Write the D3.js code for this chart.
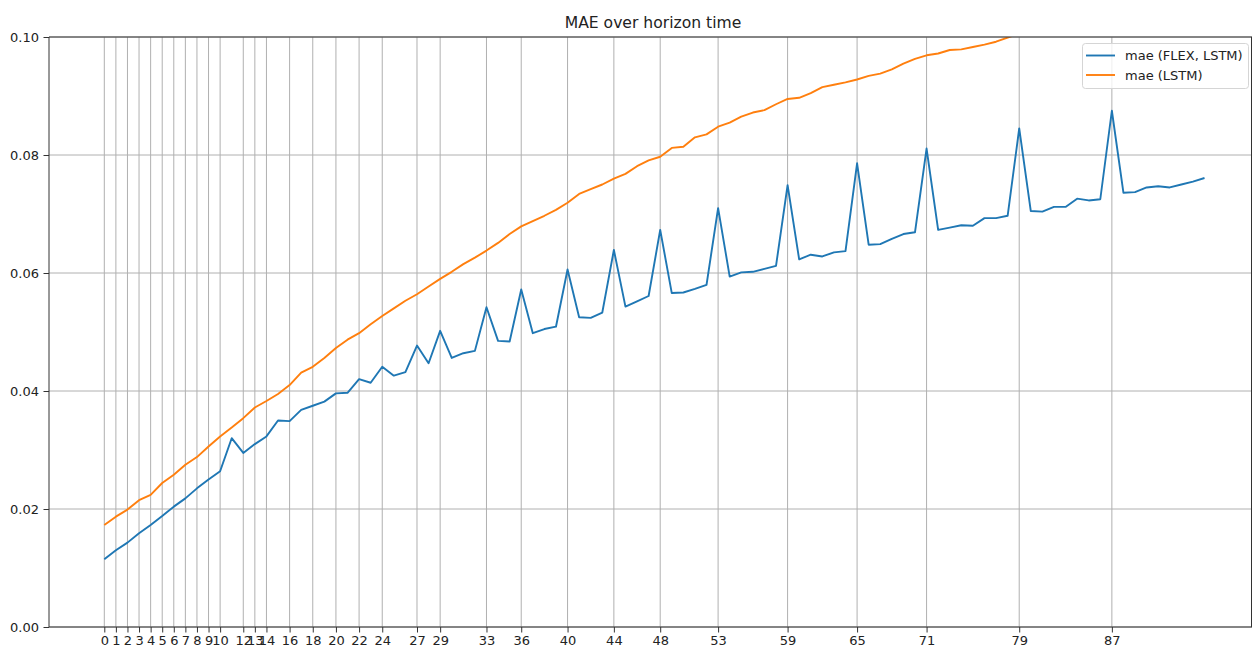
<!DOCTYPE html>
<html>
<head>
<meta charset="utf-8">
<script src="https://cdn.jsdelivr.net/npm/d3@7"></script>
<style>
  html, body { margin: 0; padding: 0; background: #fff; }
  svg { display: block; font-family: "DejaVu Sans", sans-serif; }
</style>
</head>
<body>
<svg id="chart" width="1253" height="648"></svg>
<script>
const title = "MAE over horizon time";
const seriesNames = ["mae (FLEX, LSTM)", "mae (LSTM)"];
const seriesColors = ["#1f77b4", "#ff7f0e"];
const xTickValues = [0,1,2,3,4,5,6,7,8,9,10,12,13,14,16,18,20,22,24,27,29,33,36,40,44,48,53,59,65,71,79,87];
const yTickValues = [0, 0.02, 0.04, 0.06, 0.08, 0.10];

const maeFlexLstm = [
  0.0115, 0.0130, 0.0143, 0.0159, 0.0173, 0.0188, 0.0204, 0.0218, 0.0235, 0.0250,
  0.0264, 0.0320, 0.0295, 0.0310, 0.0323, 0.0350, 0.0349, 0.0368, 0.0375, 0.0382,
  0.0396, 0.0397, 0.0420, 0.0414, 0.0441, 0.0426, 0.0432, 0.0477, 0.0447, 0.0502,
  0.0456, 0.0464, 0.0468, 0.0542, 0.0485, 0.0484, 0.0572, 0.0498, 0.0505, 0.0509,
  0.0606, 0.0525, 0.0524, 0.0533, 0.0639, 0.0543, 0.0552, 0.0561, 0.0673, 0.0566,
  0.0567, 0.0573, 0.0580, 0.0710, 0.0594, 0.0601, 0.0602, 0.0607, 0.0612, 0.0749,
  0.0623, 0.0631, 0.0628, 0.0635, 0.0637, 0.0786, 0.0648, 0.0649, 0.0658, 0.0666,
  0.0669, 0.0811, 0.0673, 0.0677, 0.0681, 0.0680, 0.0693, 0.0693, 0.0697, 0.0845,
  0.0705, 0.0704, 0.0712, 0.0712, 0.0726, 0.0723, 0.0725, 0.0875, 0.0736, 0.0737,
  0.0745, 0.0747, 0.0745, 0.0750, 0.0755, 0.0761
];

const maeLstm = [
  0.0173, 0.0187, 0.0199, 0.0215, 0.0224, 0.0244, 0.0258, 0.0275, 0.0288, 0.0306,
  0.0323, 0.0338, 0.0354, 0.0372, 0.0383, 0.0395, 0.0410, 0.0431, 0.0441, 0.0456,
  0.0473, 0.0487, 0.0498, 0.0513, 0.0527, 0.0540, 0.0553, 0.0564, 0.0577, 0.0590,
  0.0602, 0.0615, 0.0626, 0.0638, 0.0651, 0.0666, 0.0679, 0.0688, 0.0697, 0.0707,
  0.0719, 0.0734, 0.0742, 0.0750, 0.0760, 0.0768, 0.0781, 0.0791, 0.0797, 0.0812,
  0.0814, 0.0830, 0.0835, 0.0848, 0.0855, 0.0865, 0.0872, 0.0876, 0.0886, 0.0895,
  0.0897, 0.0905, 0.0915, 0.0919, 0.0923, 0.0928, 0.0934, 0.0938, 0.0945, 0.0955,
  0.0963, 0.0969, 0.0972, 0.0978, 0.0979, 0.0983, 0.0987, 0.0992, 0.0999, 0.1006,
  0.1012
];

const svg = d3.select("#chart");
const W = 1253, H = 648;
const margin = { left: 49, right: 1, top: 37, bottom: 21 };
const plotW = W - margin.left - margin.right;
const plotH = H - margin.top - margin.bottom;

const x = d3.scaleLinear().domain([-4.775, 99.1]).range([margin.left, margin.left + plotW]);
const y = d3.scaleLinear().domain([0, 0.10]).range([margin.top + plotH, margin.top]);

const gridColor = "#b0b0b0";
const fontSize = 13;

// grid
const grid = svg.append("g");
grid.selectAll("line.vx").data(xTickValues).join("line")
  .attr("x1", d => x(d)).attr("x2", d => x(d))
  .attr("y1", margin.top).attr("y2", margin.top + plotH)
  .attr("stroke", gridColor).attr("stroke-width", 1);
grid.selectAll("line.hy").data(yTickValues).join("line")
  .attr("x1", margin.left).attr("x2", margin.left + plotW)
  .attr("y1", d => y(d)).attr("y2", d => y(d))
  .attr("stroke", gridColor).attr("stroke-width", 1);

// clip
svg.append("clipPath").attr("id", "clip").append("rect")
  .attr("x", margin.left).attr("y", margin.top).attr("width", plotW).attr("height", plotH);

const line = d3.line().x((d, i) => x(i)).y(d => y(d));
const series = [maeFlexLstm, maeLstm];
svg.append("g").attr("clip-path", "url(#clip)")
  .selectAll("path").data(series).join("path")
  .attr("d", d => line(d))
  .attr("fill", "none")
  .attr("stroke", (d, i) => seriesColors[i])
  .attr("stroke-width", 1.9)
  .attr("stroke-linejoin", "round");

// axes
const xAxis = d3.axisBottom(x).tickValues(xTickValues).tickFormat(d3.format("d")).tickSize(5.5).tickPadding(3);
const yAxis = d3.axisLeft(y).tickValues(yTickValues).tickFormat(d3.format(".2f")).tickSize(5.5).tickPadding(4.5);

const gx = svg.append("g").attr("transform", `translate(0,${margin.top + plotH})`).call(xAxis);
const gy = svg.append("g").attr("transform", `translate(${margin.left},0)`).call(yAxis);
[gx, gy].forEach(g => {
  g.select(".domain").remove();
  g.selectAll(".tick line").attr("stroke", "#333").attr("stroke-width", 1);
  g.selectAll(".tick text").attr("fill", "#222").attr("font-size", fontSize).attr("font-family", "DejaVu Sans, sans-serif");
});

// spines
const spine = svg.append("g").attr("fill", "none").attr("stroke", "#333").attr("stroke-width", 1);
spine.append("line").attr("x1", margin.left).attr("x2", margin.left).attr("y1", margin.top).attr("y2", margin.top + plotH);
spine.append("line").attr("x1", margin.left).attr("x2", margin.left + plotW).attr("y1", margin.top + plotH).attr("y2", margin.top + plotH);
spine.append("line").attr("x1", margin.left).attr("x2", margin.left + plotW).attr("y1", margin.top).attr("y2", margin.top);
spine.append("line").attr("x1", margin.left + plotW - 0.5).attr("x2", margin.left + plotW - 0.5).attr("y1", margin.top).attr("y2", margin.top + plotH);

// title
svg.append("text")
  .attr("x", 653).attr("y", 28)
  .attr("text-anchor", "middle")
  .attr("font-size", 15.6).attr("fill", "#222")
  .text(title);

// legend
const lg = svg.append("g").attr("transform", "translate(1082,43)");
lg.append("rect").attr("x", 0.5).attr("y", 0.5).attr("width", 166).attr("height", 45).attr("rx", 3)
  .attr("fill", "#fff").attr("fill-opacity", 0.8).attr("stroke", "#d5d5d5");
seriesNames.forEach((name, i) => {
  const yy = 12.5 + i * 19.5;
  lg.append("line").attr("x1", 4).attr("x2", 33).attr("y1", yy).attr("y2", yy)
    .attr("stroke", seriesColors[i]).attr("stroke-width", 1.9);
  lg.append("text").attr("x", 43).attr("y", yy + 4.7).attr("font-size", fontSize).attr("fill", "#222").text(name);
});
</script>
</body>
</html>
